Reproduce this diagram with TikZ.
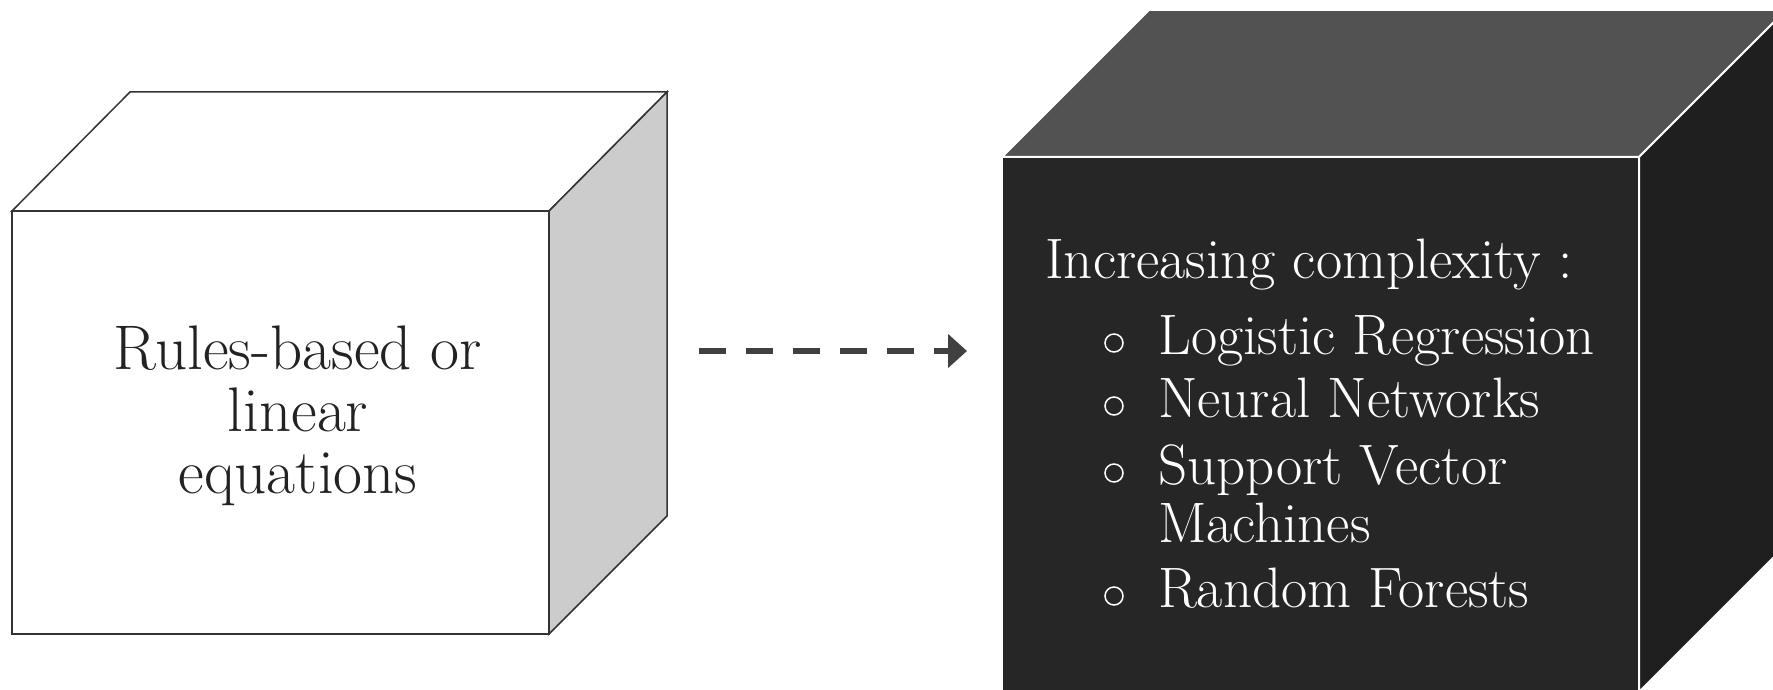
\documentclass[tikz,border=0pt]{standalone}
\usetikzlibrary{arrows.meta}
\definecolor{edgegray}{HTML}{333333}
\definecolor{sidegray}{HTML}{CCCCCC}
\definecolor{darkfront}{HTML}{262626}
\definecolor{darktop}{HTML}{525252}
\definecolor{darkside}{HTML}{1F1F1F}
\definecolor{arrowgray}{HTML}{404040}
\definecolor{textdark}{HTML}{222222}
\tikzset{
  lightface/.style={draw=edgegray,line width=1.5pt,line join=miter},
  darkfaceedge/.style={draw=white,line width=2pt,line join=miter},
  bigtext/.style={inner sep=0pt,font=\fontsize{63}{62}\selectfont,text=textdark,align=center},
  listtext/.style={inner sep=0pt,font=\fontsize{57}{58}\selectfont,text=white,align=left},
  bulletmark/.style={circle,draw=white,line width=1.5pt,minimum size=18pt,inner sep=0pt},
  flowarrow/.style={draw=arrowgray,line width=6pt,dash pattern=on 27pt off 20pt,-{Triangle[length=19pt,width=33pt]}}
}
\begin{document}
\begin{tikzpicture}[x=1pt,y=-1pt]
\useasboundingbox (0,0) rectangle (1773,690);
\clip (0,0) rectangle (1773,690);
% left cube
\coordinate (lA) at (12,211);
\coordinate (lB) at (549,211);
\coordinate (lC) at (549,634);
\coordinate (lD) at (12,634);
\coordinate (lE) at (130,92);
\coordinate (lF) at (667,92);
\coordinate (lG) at (667,516);
\filldraw[lightface,fill=white] (lA) -- (lE) -- (lF) -- (lB) -- cycle;
\filldraw[lightface,fill=sidegray] (lB) -- (lF) -- (lG) -- (lC) -- cycle;
\filldraw[lightface,fill=white] (lA) -- (lB) -- (lC) -- (lD) -- cycle;
\node[bigtext,anchor=north] (lefttext) at (298,326) {Rules-based or\\linear\\equations};
% right cube
\coordinate (rA) at (1002,157);
\coordinate (rB) at (1639,157);
\coordinate (rC) at (1639,692);
\coordinate (rD) at (1002,692);
\coordinate (rE) at (1149,10);
\coordinate (rF) at (1786,10);
\coordinate (rG) at (1786,545);
\filldraw[darkfaceedge,fill=darktop] (rA) -- (rE) -- (rF) -- (rB) -- cycle;
\filldraw[darkfaceedge,fill=darkside] (rB) -- (rF) -- (rG) -- (rC) -- cycle;
\filldraw[darkfaceedge,fill=darkfront] (rA) -- (rB) -- (rC) -- (rD) -- cycle;
\node[listtext,anchor=base west] (heading) at (1045,278) {Increasing complexity :};
\node[listtext,anchor=base west] (item1) at (1158,354) {Logistic Regression};
\node[listtext,anchor=base west] (item2) at (1158,417) {Neural Networks};
\node[listtext,anchor=base west] (item3) at (1158,484) {Support Vector};
\node[listtext,anchor=base west] (item3b) at (1158,542) {Machines};
\node[listtext,anchor=base west] (item4) at (1158,607) {Random Forests};
\node[bulletmark] (b1) at (1114,343) {};
\node[bulletmark] (b2) at (1114,406) {};
\node[bulletmark] (b3) at (1114,473) {};
\node[bulletmark] (b4) at (1114,596) {};
% arrow
\coordinate (arrowstart) at (699,351);
\coordinate (arrowend) at (967,351);
\draw[flowarrow] (arrowstart) -- (arrowend);
\end{tikzpicture}
\end{document}
